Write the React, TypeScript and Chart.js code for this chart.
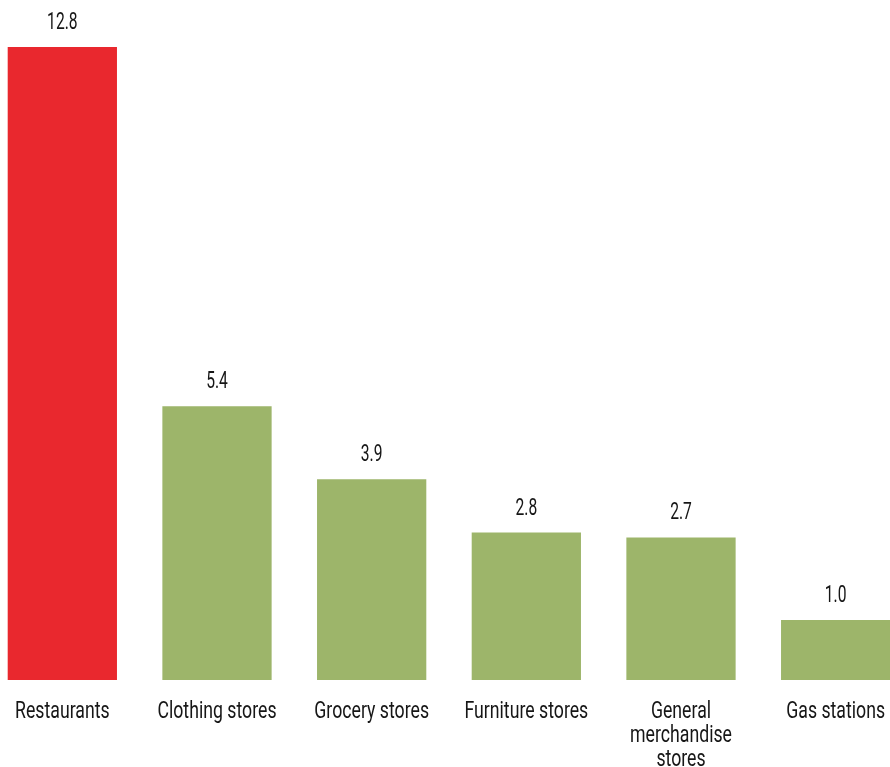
import React, { useEffect, useRef } from "react";
import { Chart, registerables } from "chart.js";

Chart.register(...registerables);

const categories: (string | string[])[] = [
  "Restaurants",
  "Clothing stores",
  "Grocery stores",
  "Furniture stores",
  ["General", "merchandise", "stores"],
  "Gas stations",
];
const values: number[] = [12.8, 5.4, 3.9, 2.8, 2.7, 1.0];
const barColors: string[] = ["#E9282E", "#9DB56A", "#9DB56A", "#9DB56A", "#9DB56A", "#9DB56A"];

const Y_MIN = -0.236;
const Y_MAX = 13.77;
const FONT = "Roboto, 'DejaVu Sans Condensed', sans-serif";
const TEXT_COLOR = "#161616";

// Draws condensed text (horizontally scaled) as real canvas text
function drawCondensed(ctx: CanvasRenderingContext2D, text: string, x: number, y: number, sx: number) {
  ctx.save();
  ctx.translate(x, y);
  ctx.scale(sx, 1);
  ctx.fillText(text, 0, 0);
  ctx.restore();
}

const textLabels = {
  id: "textLabels",
  afterDatasetsDraw(chart: any) {
    const ctx = chart.ctx as CanvasRenderingContext2D;
    const meta = chart.getDatasetMeta(0);
    const bottom = chart.chartArea.bottom;
    ctx.save();
    ctx.fillStyle = TEXT_COLOR;
    ctx.textAlign = "center";
    ctx.textBaseline = "alphabetic";
    ctx.font = `23px ${FONT}`;
    meta.data.forEach((bar: any, i: number) => {
      drawCondensed(ctx, values[i].toFixed(1), bar.x, bar.y - 18, 0.68);
      const cat = categories[i];
      const lines = Array.isArray(cat) ? cat : [cat];
      lines.forEach((line, j) => {
        drawCondensed(ctx, line, bar.x, bottom + 37.5 + j * 24, 0.77);
      });
    });
    ctx.restore();
  },
};

export default function App() {
  const ref = useRef<HTMLCanvasElement | null>(null);
  useEffect(() => {
    if (!ref.current) return;
    const chart = new Chart(ref.current, {
      type: "bar",
      data: {
        labels: categories,
        datasets: [
          {
            data: values,
            backgroundColor: barColors,
            borderWidth: 0,
            base: Y_MIN,
            categoryPercentage: 1,
            barPercentage: 0.7065,
          } as any,
        ],
      },
      options: {
        animation: false,
        responsive: false,
        layout: { padding: 0 },
        plugins: {
          legend: { display: false },
          tooltip: { enabled: false },
          title: { display: false },
        },
        scales: {
          x: {
            grid: { display: false, drawTicks: false },
            border: { display: false },
            ticks: { display: false },
            afterFit: (scale: any) => {
              scale.height = 87;
            },
          },
          y: {
            display: false,
            min: Y_MIN,
            max: Y_MAX,
          },
        },
      },
      plugins: [textLabels],
    });
    return () => chart.destroy();
  }, []);
  return (
    <div
      style={{
        position: "fixed",
        left: 0,
        top: 0,
        width: 890,
        height: 767,
        overflow: "hidden",
        background: "#ffffff",
      }}
    >
      <canvas
        ref={ref}
        width={928}
        height={767}
        style={{ position: "absolute", left: -15, top: 0, width: 928, height: 767 }}
      />
    </div>
  );
}
